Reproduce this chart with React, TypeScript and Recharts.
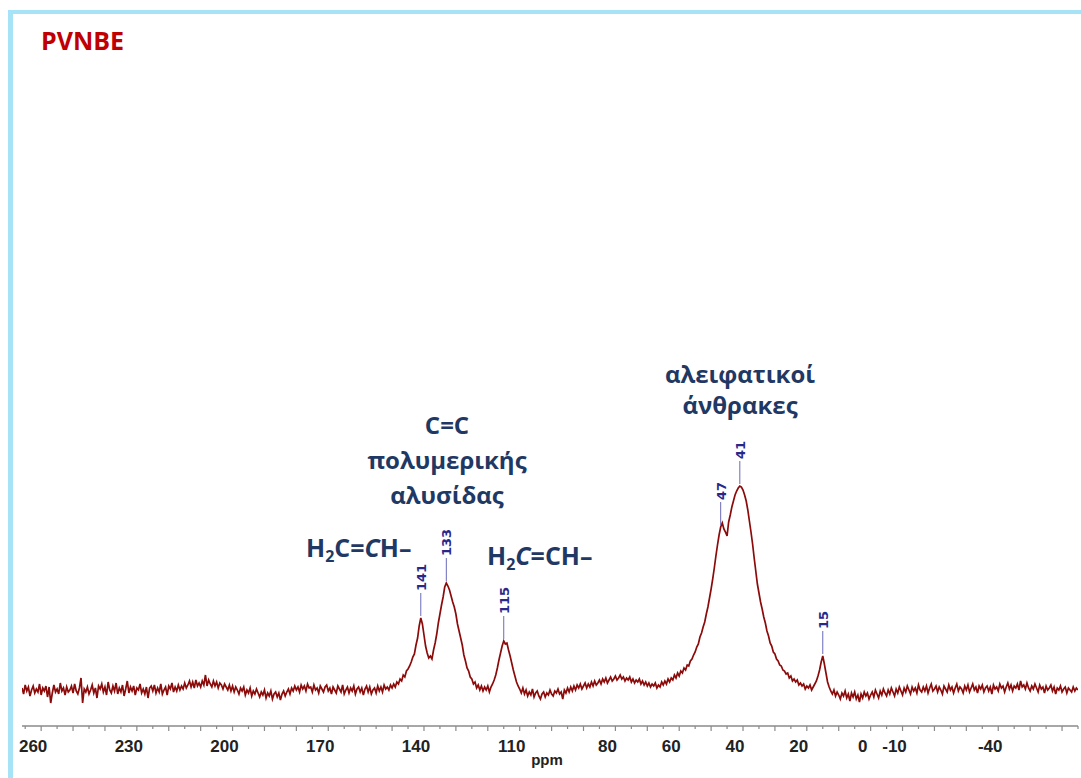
import React from 'react';
import { LineChart, Line, XAxis, YAxis, ReferenceDot } from 'recharts';

// 13C NMR spectrum of PVNBE: [chemical shift (ppm), intensity]
const spectrum: [number, number][] = [
  [266, 2], [265.5, -4], [265, 5], [264.5, -1], [264, 3], [263.5, -6], [263, 0], [262.5, 4], [262, -3], [261.5, 1],
  [261, -2], [260.5, 6], [260, -5], [259.5, 2], [259, -1], [258.5, 4], [258, -7], [257.5, 3], [257, -13], [256.5, -3],
  [256, 5], [255.5, -2], [255, 1], [254.5, -4], [254, 7], [253.5, -1], [253, 2], [252.5, -5], [252, 3], [251.5, -2],
  [251, 0], [250.5, 4], [250, -3], [249.5, 6], [249, -1], [248.5, -4], [248, 2], [247.5, 12], [247, -13], [246.5, 1],
  [246, -2], [245.5, 3], [245, -4], [244.5, 0], [244, 5], [243.5, -3], [243, 2], [242.5, -8], [242, 4], [241.5, 1],
  [241, 6], [240.5, -2], [240, 3], [239.5, -5], [239, 8], [238.5, 0], [238, -3], [237.5, 4], [237, -1], [236.5, 7],
  [236, -4], [235.5, 2], [235, -2], [234.5, 5], [234, -6], [233.5, 1], [233, 9], [232.5, -3], [232, 3], [231.5, -1],
  [231, 4], [230.5, -5], [230, 2], [229.5, 0], [229, 6], [228.5, -3], [228, 1], [227.5, -4], [227, 3], [226.5, -8],
  [226, 2], [225.5, 4], [225, -1], [224.5, 5], [224, -3], [223.5, 2], [223, -2], [222.5, 6], [222, -4], [221.5, 0],
  [221, 3], [220.5, -5], [220, 4], [219.5, 1], [219, 7], [218.5, -2], [218, 3], [217.5, -1], [217, 5], [216.5, 0],
  [216, 4], [215.5, 1], [215, 7], [214.5, 2], [214, 5], [213.5, 9], [213, 3], [212.5, 8], [212, 2], [211.5, 10],
  [211, 4], [210.5, 7], [210, 3], [209.5, 9], [209, 5], [208.5, 15], [208, 4], [207.5, 10], [207, 6], [206.5, 3],
  [206, 9], [205.5, 4], [205, 8], [204.5, 2], [204, 7], [203.5, 5], [203, 1], [202.5, 6], [202, 3], [201.5, 0],
  [201, 5], [200.5, -1], [200, 4],
  [199.5, -2], [199, 3], [198.5, 0], [198, -4], [197.5, 2], [197, -1], [196.5, 3], [196, -5], [195.5, 0], [195, -3],
  [194.5, 2], [194, -6], [193.5, -1], [193, -4], [192.5, 1], [192, -3], [191.5, -7], [191, -2], [190.5, -5], [190, 0],
  [189.5, -8], [189, -3], [188.5, -6], [188, -1], [187.5, -9], [187, -4], [186.5, -2], [186, -7], [185.5, -3], [185, -10],
  [184.5, -4], [184, -1], [183.5, -6], [183, -2], [182.5, 1], [182, -4], [181.5, 2], [181, -1], [180.5, 4], [180, 0],
  [179.5, 3], [179, -2], [178.5, 5], [178, 1], [177.5, 4], [177, -1], [176.5, 6], [176, 2], [175.5, 3], [175, -2],
  [174.5, 5], [174, 0], [173.5, 2], [173, -3], [172.5, 4], [172, 1], [171.5, -2], [171, 3], [170.5, 5], [170, -1],
  [169.5, 2], [169, -4], [168.5, 3], [168, 0], [167.5, -3], [167, 4], [166.5, 1], [166, -2], [165.5, 5], [165, -4],
  [164.5, 0], [164, 3], [163.5, -3], [163, 2], [162.5, -1], [162, 4], [161.5, -4], [161, 1], [160.5, 3], [160, -2],
  [159.5, 2], [159, -5], [158.5, 1], [158, 4], [157.5, -2], [157, 3], [156.5, -4], [156, 0], [155.5, 2], [155, -3],
  [154.5, 4], [154, -1], [153.5, 3], [153, -2], [152.5, 5], [152, 1], [151.5, 3], [151, 0], [150.5, 5], [150, 2],
  [149.5, 6], [149, 3], [148.5, 8], [148, 6], [147.5, 11], [147, 9], [146.5, 15], [146, 13], [145.5, 19], [145, 21],
  [144.5, 24], [144, 28], [143.5, 33], [143, 36], [142.5, 45], [142, 52], [141.5, 64], [141, 72], [140.5, 66], [140, 55],
  [139.5, 44], [139, 37], [138.5, 32], [138, 34], [137.5, 31], [137, 40], [136.5, 47], [136, 56], [135.5, 67], [135, 76],
  [134.5, 85], [134, 93], [133.5, 103], [133, 107], [132.5, 104], [132, 100], [131.5, 94], [131, 88], [130.5, 83], [130, 76],
  [129.5, 66], [129, 59], [128.5, 52], [128, 45], [127.5, 35], [127, 29], [126.5, 22], [126, 19], [125.5, 13], [125, 11],
  [124.5, 6], [124, 8], [123.5, 2], [123, 5], [122.5, 0], [122, 4], [121.5, -1], [121, 3], [120.5, 0], [120, 4],
  [119.5, -2], [119, 3], [118.5, 6], [118, 10], [117.5, 15], [117, 22], [116.5, 30], [116, 37], [115.5, 44], [115, 49],
  [114.5, 46], [114, 47], [113.5, 40], [113, 34], [112.5, 27], [112, 20], [111.5, 14], [111, 8], [110.5, 4], [110, 1],
  [109.5, -3], [109, 2], [108.5, -4], [108, 0], [107.5, -6], [107, -2], [106.5, -5], [106, 1], [105.5, -7], [105, -3],
  [104.5, -1], [104, -6], [103.5, -9], [103, -4], [102.5, -2], [102, -7], [101.5, -3], [101, -5], [100.5, 0], [100, -4],
  [99.5, -6], [99, -1], [98.5, -3], [98, 1], [97.5, -4], [97, -2], [96.5, -9], [96, 0], [95.5, -3], [95, 2],
  [94.5, -2], [94, 3], [93.5, -1], [93, 4], [92.5, 0], [92, 5], [91.5, 2], [91, 6], [90.5, 1], [90, 4],
  [89.5, 7], [89, 2], [88.5, 6], [88, 3], [87.5, 8], [87, 4], [86.5, 9], [86, 5], [85.5, 7], [85, 10],
  [84.5, 6], [84, 11], [83.5, 8], [83, 12], [82.5, 7], [82, 10], [81.5, 13], [81, 9], [80.5, 11], [80, 14],
  [79.5, 10], [79, 12], [78.5, 15], [78, 11], [77.5, 13], [77, 9], [76.5, 12], [76, 10], [75.5, 13], [75, 8],
  [74.5, 11], [74, 7], [73.5, 10], [73, 8], [72.5, 11], [72, 6], [71.5, 9], [71, 5], [70.5, 8], [70, 4],
  [69.5, 7], [69, 3], [68.5, 6], [68, 4], [67.5, 7], [67, 2], [66.5, 5], [66, 3], [65.5, 8], [65, 5],
  [64.5, 9], [64, 6], [63.5, 11], [63, 8], [62.5, 12], [62, 10], [61.5, 15], [61, 12], [60.5, 17], [60, 14],
  [59.5, 19], [59, 17], [58.5, 22], [58, 20], [57.5, 25], [57, 24], [56.5, 29], [56, 31], [55.5, 35], [55, 38],
  [54.5, 43], [54, 46], [53.5, 53], [53, 57], [52.5, 63], [52, 68], [51.5, 76], [51, 83], [50.5, 92], [50, 101],
  [49.5, 111], [49, 122], [48.5, 134], [48, 145], [47.5, 155], [47, 163], [46.5, 167], [46, 161], [45.5, 158], [45, 154],
  [44.5, 168], [44, 175], [43.5, 183], [43, 189], [42.5, 195], [42, 199], [41.5, 202], [41, 204], [40.5, 203], [40, 200],
  [39.5, 195], [39, 189], [38.5, 180], [38, 169], [37.5, 158], [37, 146], [36.5, 132], [36, 119], [35.5, 106], [35, 97],
  [34.5, 88], [34, 81], [33.5, 73], [33, 67], [32.5, 59], [32, 54], [31.5, 47], [31, 44], [30.5, 38], [30, 36],
  [29.5, 31], [29, 29], [28.5, 25], [28, 24], [27.5, 20], [27, 19], [26.5, 16], [26, 17], [25.5, 12], [25, 14],
  [24.5, 9], [24, 11], [23.5, 8], [23, 10], [22.5, 5], [22, 7], [21.5, 4], [21, 6], [20.5, 1], [20, 4],
  [19.5, 2], [19, 5], [18.5, 0], [18, 3], [17.5, 6], [17, 9], [16.5, 14], [16, 20], [15.5, 28], [15, 34],
  [14.5, 26], [14, 17], [13.5, 8], [13, 3], [12.5, -1], [12, -4], [11.5, 0], [11, -6], [10.5, -2], [10, -5],
  [9.5, -9], [9, -3], [8.5, -6], [8, -1], [7.5, -8], [7, -4], [6.5, -11], [6, -3], [5.5, -7], [5, -2],
  [4.5, -9], [4, -5], [3.5, -12], [3, -4], [2.5, -8], [2, -2], [1.5, -6], [1, -3], [0.5, -9], [0, -5],
  [-0.5, -2], [-1, -7], [-1.5, 0], [-2, -4], [-2.5, -8], [-3, -1], [-3.5, -5], [-4, 1], [-4.5, -3], [-5, -6],
  [-5.5, 0], [-6, -4], [-6.5, 2], [-7, -2], [-7.5, -6], [-8, 1], [-8.5, -3], [-9, 3], [-9.5, -1], [-10, -5],
  [-10.5, 2], [-11, -2], [-11.5, 4], [-12, 0], [-12.5, -4], [-13, 3], [-13.5, -1], [-14, 2], [-14.5, -3], [-15, 5],
  [-15.5, 0], [-16, -2], [-16.5, 3], [-17, -1], [-17.5, 4], [-18, -3], [-18.5, 2], [-19, 6], [-19.5, -1], [-20, 1],
  [-20.5, 4], [-21, -2], [-21.5, 3], [-22, 0], [-22.5, -4], [-23, 4], [-23.5, 1], [-24, -2], [-24.5, 5], [-25, 0],
  [-25.5, 3], [-26, -3], [-26.5, 2], [-27, 6], [-27.5, -1], [-28, 3], [-28.5, 1], [-29, -3], [-29.5, 4], [-30, 0],
  [-30.5, 5], [-31, -2], [-31.5, 2], [-32, 6], [-32.5, 0], [-33, 3], [-33.5, -3], [-34, 4], [-34.5, 1], [-35, 5],
  [-35.5, -2], [-36, 2], [-36.5, 4], [-37, -1], [-37.5, 3], [-38, -4], [-38.5, 5], [-39, 1], [-39.5, 3], [-40, -1],
  [-40.5, 6], [-41, 2], [-41.5, 4], [-42, -2], [-42.5, 3], [-43, 7], [-43.5, 1], [-44, 5], [-44.5, -1], [-45, 4],
  [-45.5, 2], [-46, 6], [-46.5, 0], [-47, 9], [-47.5, 3], [-48, 5], [-48.5, 1], [-49, 7], [-49.5, 2], [-50, -1],
  [-50.5, 4], [-51, 1], [-51.5, 6], [-52, 2], [-52.5, -2], [-53, 5], [-53.5, 1], [-54, 3], [-54.5, -3], [-55, 4],
  [-55.5, 0], [-56, 2], [-56.5, 5], [-57, -1], [-57.5, 3], [-58, -4], [-58.5, 2], [-59, 0], [-59.5, 4], [-60, -2],
  [-60.5, 1], [-61, 3], [-61.5, -3], [-62, 2], [-62.5, 0], [-63, -2], [-63.5, 3], [-64, -1], [-64.5, 2], [-65, 0],
];

const tickValues = [
  265, 260, 255, 250, 245, 240, 235, 230, 225, 220, 215, 210, 205, 200, 195, 190, 185, 180, 175, 170,
  165, 160, 155, 150, 145, 140, 135, 130, 125, 120, 115, 110, 105, 100, 95, 90, 85, 80, 75, 70,
  65, 60, 55, 50, 45, 40, 35, 30, 25, 20, 15, 10, 5, 0, -5, -10, -15, -20, -25, -30,
  -35, -40, -45, -50, -55, -60, -65,
];
const tickLabels = [260, 230, 200, 170, 140, 110, 80, 60, 40, 20, 0, -10, -40];

const peakPpm = [141, 133, 115, 47, 41, 15];
const peakLabels = ['141', '133', '115', '47', '41', '15'];

const data = spectrum.map(([ppm, intensity]) => ({ ppm, intensity }));

const NAVY = '#1f3864';
const PEAK_BLUE = '#28288a';

const AxisTick = (props: any) => {
  const { x, y, payload } = props;
  const v = payload.value as number;
  const major = v % 10 === 0;
  const show = tickLabels.includes(v);
  return (
    <g>
      <line x1={x} x2={x} y1={y} y2={y + (major ? 5 : 3)} stroke="#8a8a8a" strokeWidth={1.2} />
      {show && (
        <text x={x - 8} y={y + 26} textAnchor="middle" fontFamily="Liberation Sans, Arial, sans-serif" fontWeight="bold" fontSize={17} fill="#222">
          {v}
        </text>
      )}
    </g>
  );
};

const PeakTag = ({ cx, cy, text }: { cx: number; cy: number; text: string }) => {
  if (cx == null || cy == null) return null;
  const top = cy - 25;
  return (
    <g>
      <line x1={cx} x2={cx} y1={cy - 2} y2={top} stroke="#6a6ab8" strokeWidth={1} />
      <text
        x={cx + 5}
        y={top - 2}
        transform={`rotate(-90 ${cx + 5} ${top - 2})`}
        textAnchor="start"
        fontFamily="DejaVu Sans, sans-serif"
        fontWeight="bold"
        fontSize={13}
        fill={PEAK_BLUE}
      >
        {text}
      </text>
    </g>
  );
};

const lookup = (ppm: number) => {
  const row = spectrum.find((r) => r[0] === ppm);
  return row ? row[1] : 0;
};

export default function App() {
  const font = "'Open Sans', 'Noto Sans', sans-serif";
  return (
    <div style={{ position: 'absolute', left: 0, top: 0, width: 1081, height: 778, background: '#fff', overflow: 'hidden' }}>
      <div
        style={{
          position: 'absolute',
          left: 8,
          top: 10,
          width: 1073,
          height: 768,
          borderTop: '4px solid #a6e3f6',
          borderLeft: '5px solid #a6e3f6',
          boxSizing: 'border-box',
        }}
      />
      <div style={{ position: 'absolute', left: 0, top: 0 }}>
        <LineChart width={1081} height={778} data={data} margin={{ top: 290, right: 3, bottom: 0, left: 22 }}>
          <XAxis
            dataKey="ppm"
            type="number"
            domain={[-65, 266]}
            reversed
            allowDataOverflow
            ticks={tickValues}
            interval={0}
            height={52}
            tickSize={0}
            tickMargin={0}
            tickLine={false}
            axisLine={{ stroke: '#8a8a8a', strokeWidth: 1.5 }}
            tick={<AxisTick />}
          />
          <YAxis hide type="number" domain={[-36, 400]} allowDataOverflow />
          <Line
            type="linear"
            dataKey="intensity"
            stroke="#8b0a0a"
            strokeWidth={1.7}
            dot={false}
            isAnimationActive={false}
          />
          {peakPpm.map((p, i) => (
            <ReferenceDot
              key={p}
              x={p}
              y={lookup(p)}
              r={0}
              ifOverflow="visible"
              shape={(s: any) => <PeakTag cx={s.cx} cy={s.cy} text={peakLabels[i]} />}
            />
          ))}
        </LineChart>
      </div>
      <svg width={1081} height={778} style={{ position: 'absolute', left: 0, top: 0, pointerEvents: 'none' }}>
        <text x={41} y={50} fontFamily={font} fontWeight="bold" fontSize={25} fill="#c00000">PVNBE</text>
        <g fontFamily={font} fontWeight="bold" fontSize={24} fill={NAVY} textAnchor="middle">
          <text x={447} y={434}>C=C</text>
          <text x={447} y={469}>πολυμερικής</text>
          <text x={447} y={504}>αλυσίδας</text>
          <text x={740} y={383}>αλειφατικοί</text>
          <text x={740} y={414}>άνθρακες</text>
        </g>
        <g fontFamily={font} fontWeight="bold" fontSize={25} fill={NAVY}>
          <text x={306} y={557}>
            H<tspan fontSize={16} dy={5}>2</tspan><tspan dy={-5}>C=</tspan><tspan fontStyle="italic">C</tspan>H–
          </text>
          <text x={487} y={565}>
            H<tspan fontSize={16} dy={5}>2</tspan><tspan dy={-5} fontStyle="italic">C</tspan>=CH–
          </text>
        </g>
        <text x={547} y={765} textAnchor="middle" fontFamily="Liberation Sans, Arial, sans-serif" fontWeight="bold" fontSize={15} fill="#222">ppm</text>
      </svg>
    </div>
  );
}
